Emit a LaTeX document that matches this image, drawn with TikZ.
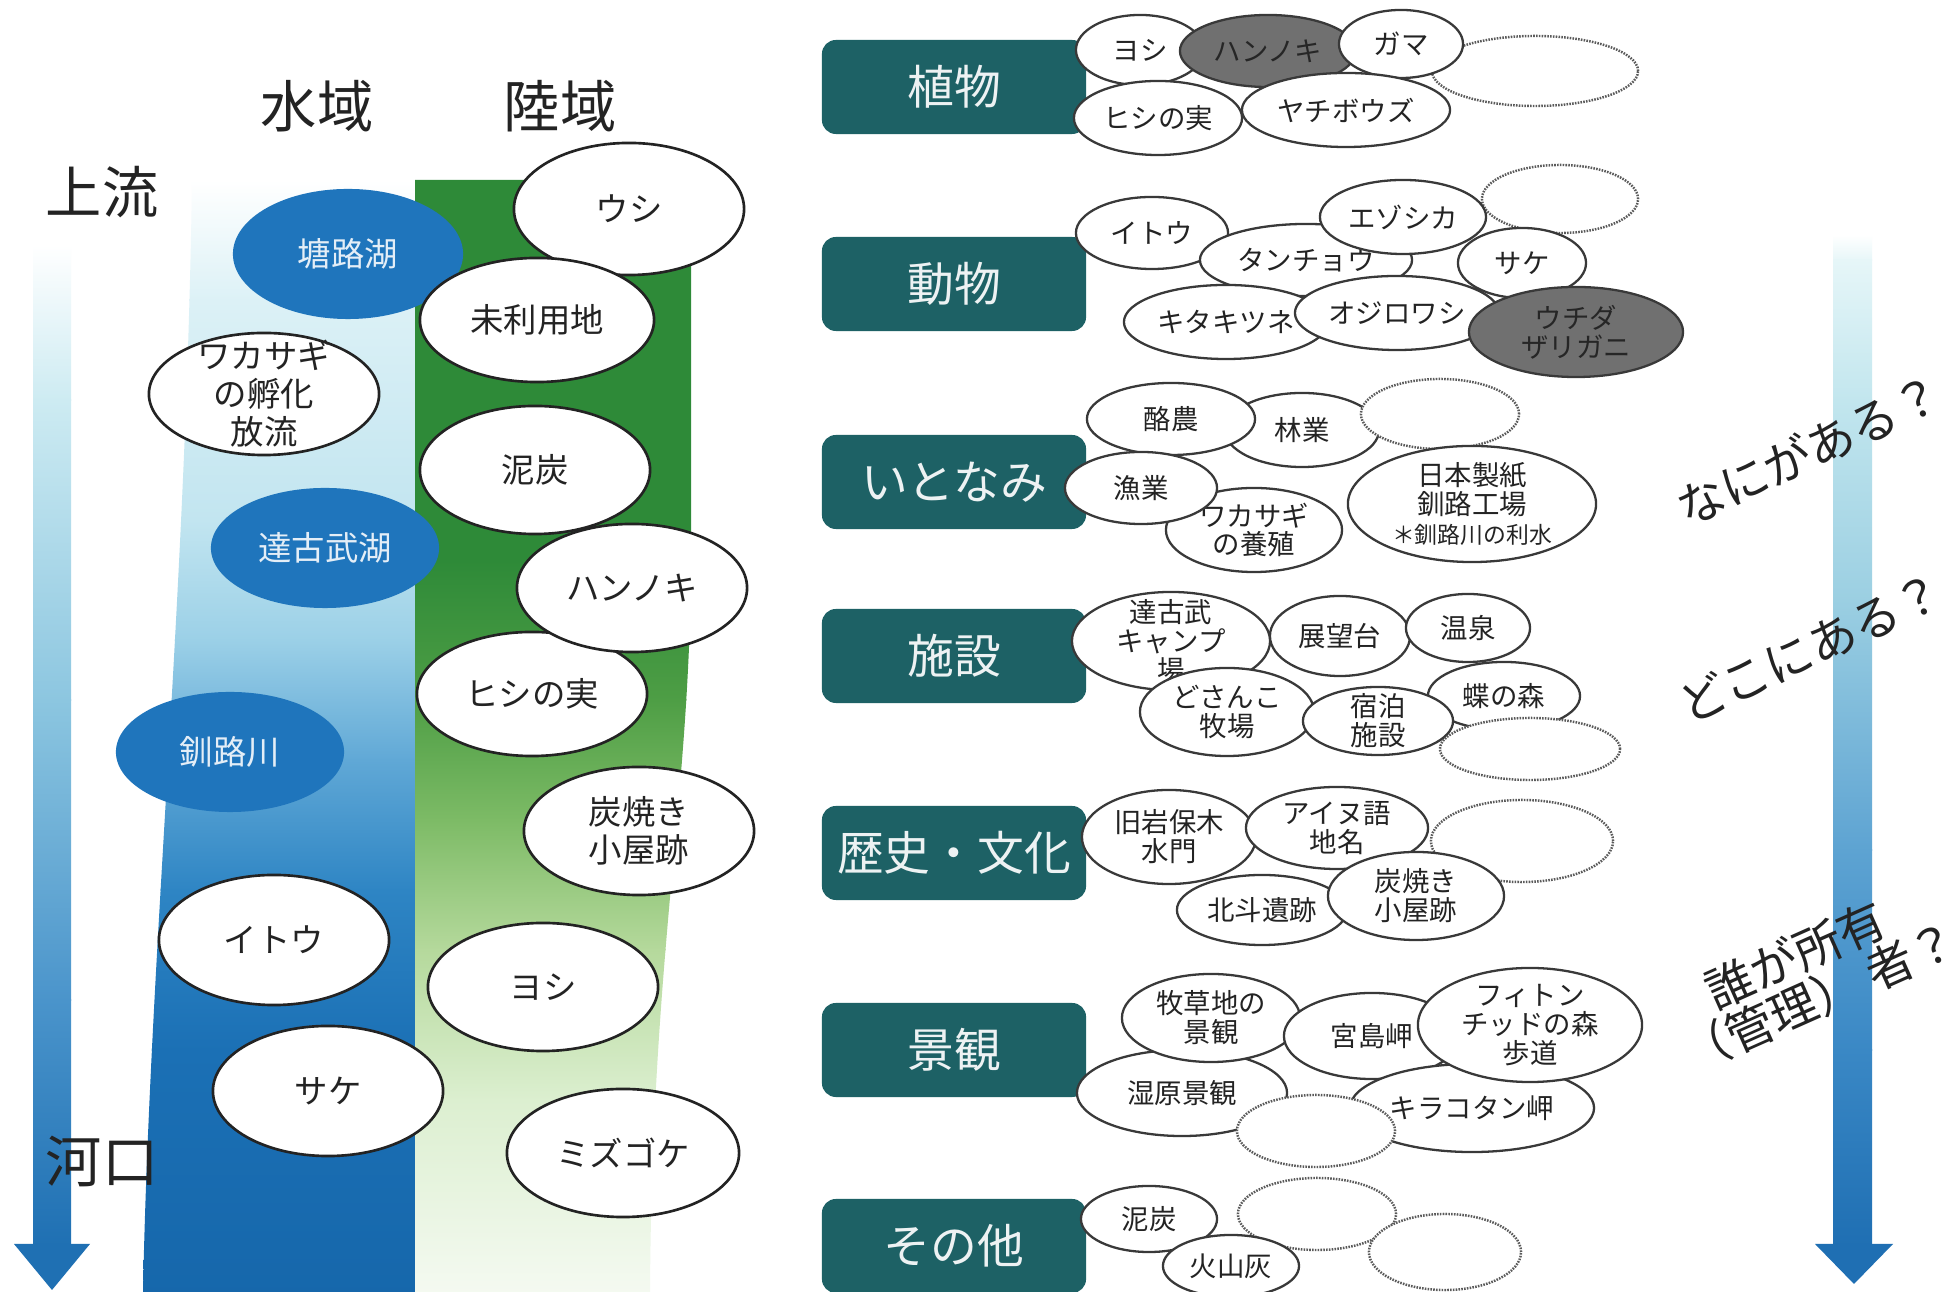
\documentclass[tikz,border=0pt]{standalone}
\usepackage{fontspec}
\setmainfont{Noto Sans CJK JP}
\usetikzlibrary{shapes.geometric}
\definecolor{teal1}{RGB}{29,97,101}
\definecolor{lakeblue}{RGB}{31,117,188}
\definecolor{gfill}{RGB}{112,112,112}
\definecolor{ink}{RGB}{35,35,35}
\definecolor{wb1}{RGB}{220,241,246}
\definecolor{wb2}{RGB}{194,229,240}
\definecolor{wb3}{RGB}{155,208,231}
\definecolor{wb4}{RGB}{96,168,214}
\definecolor{wb5}{RGB}{46,133,196}
\definecolor{wb6}{RGB}{27,112,181}
\definecolor{wb7}{RGB}{22,103,171}
\definecolor{gb0}{RGB}{46,138,56}
\definecolor{gb1}{RGB}{78,158,69}
\definecolor{gb2}{RGB}{125,187,102}
\definecolor{gb3}{RGB}{181,217,156}
\definecolor{gb4}{RGB}{220,239,208}
\definecolor{gb5}{RGB}{245,250,242}
\definecolor{la1}{RGB}{205,235,242}
\definecolor{la2}{RGB}{140,198,224}
\definecolor{la3}{RGB}{74,148,203}
\definecolor{la4}{RGB}{31,112,179}
\definecolor{ra0}{RGB}{230,246,248}
\definecolor{ra1}{RGB}{194,230,238}
\definecolor{ra2}{RGB}{155,207,226}
\definecolor{ra3}{RGB}{93,163,210}
\definecolor{ra4}{RGB}{58,136,197}
\definecolor{ra5}{RGB}{31,111,179}
\newcommand\Ell[8]{%
  \node[#6, minimum width=#4*0.02cm, minimum height=#5*0.02cm] (#1) at (#2,#3) {};
  \node[#7] (#1t) at (#1.center) {#8};}
\begin{document}
\begin{tikzpicture}[x=0.01cm,y=-0.01cm,
  lw/.style={ellipse, draw=ink, line width=0.75pt, fill=white, inner sep=0pt},
  lb/.style={ellipse, fill=lakeblue, inner sep=0pt},
  rw/.style={ellipse, draw=ink!90, line width=0.65pt, fill=white, inner sep=0pt},
  rg/.style={ellipse, draw=ink!90, line width=0.65pt, fill=gfill, inner sep=0pt},
  re/.style={ellipse, draw=ink!75, line width=0.7pt, dash pattern=on 0.45pt off 0.35pt, fill=white, inner sep=0pt},
  lt/.style={font=\fontsize{9.5}{10.8}\selectfont, text=ink, align=center, inner sep=0pt},
  lbt/.style={font=\fontsize{9.5}{10.8}\selectfont, text=white!88!lakeblue, align=center, inner sep=0pt},
  rt/.style={font=\fontsize{7.8}{8.2}\selectfont, text=ink, align=center, inner sep=0pt},
  rgt/.style={rt, text=black!85},
  catbox/.style={rounded corners=0.14cm, fill=teal1, minimum width=2.64cm, minimum height=0.94cm,
    text=white!92!teal1, font=\fontsize{13.3}{15}\selectfont, inner sep=0pt},
  bigt/.style={font=\fontsize{16}{18}\selectfont, text=ink},
  qt/.style={font=\fontsize{13.6}{13.6}\selectfont, text=ink, align=left, inner sep=0pt}]
\useasboundingbox (0,0) rectangle (1950,1292);
\fill[white] (0,0) rectangle (1950,1292);
\begin{scope}
\clip (0,0) rectangle (1950,1292);
% water band
\begin{scope}
\clip (192,180) .. controls (186,600) and (150,950) .. (143,1292) -- (416,1292) -- (416,180) -- cycle;
\shade[top color=white, bottom color=wb1] (100,180) rectangle (450,301);
\shade[top color=wb1, bottom color=wb2] (100,300) rectangle (450,521);
\shade[top color=wb2, bottom color=wb3] (100,520) rectangle (450,641);
\shade[top color=wb3, bottom color=wb4] (100,640) rectangle (450,761);
\shade[top color=wb4, bottom color=wb5] (100,760) rectangle (450,891);
\shade[top color=wb5, bottom color=wb6] (100,890) rectangle (450,1051);
\shade[top color=wb6, bottom color=wb7] (100,1050) rectangle (450,1300);
\end{scope}
% land band
\begin{scope}
\clip (415,180) -- (691,180) -- (691,560) .. controls (690,800) and (652,950) .. (650,1292) -- (415,1292) -- cycle;
\fill[gb0] (400,170) rectangle (700,561);
\shade[top color=gb0, bottom color=gb1] (400,560) rectangle (700,701);
\shade[top color=gb1, bottom color=gb2] (400,700) rectangle (700,821);
\shade[top color=gb2, bottom color=gb3] (400,820) rectangle (700,951);
\shade[top color=gb3, bottom color=gb4] (400,950) rectangle (700,1101);
\shade[top color=gb4, bottom color=gb5] (400,1100) rectangle (700,1300);
\end{scope}
% left arrow
\shade[top color=white, bottom color=la1] (33,245) rectangle (71,401);
\shade[top color=la1, bottom color=la2] (33,400) rectangle (71,701);
\shade[top color=la2, bottom color=la3] (33,700) rectangle (71,1001);
\shade[top color=la3, bottom color=la4] (33,1000) rectangle (71,1246);
\fill[la4] (14,1244) -- (90,1244) -- (52,1290) -- cycle;
% right arrow
\shade[top color=white, bottom color=ra0] (1833,235) rectangle (1872,261);
\shade[top color=ra0, bottom color=ra1] (1833,260) rectangle (1872,401);
\shade[top color=ra1, bottom color=ra2] (1833,400) rectangle (1872,601);
\shade[top color=ra2, bottom color=ra3] (1833,600) rectangle (1872,851);
\shade[top color=ra3, bottom color=ra4] (1833,850) rectangle (1872,1051);
\shade[top color=ra4, bottom color=ra5] (1833,1050) rectangle (1872,1246);
\fill[ra5] (1815,1244) -- (1893,1244) -- (1854,1284) -- cycle;
% headings
\node[bigt] (suiiki) at (317,106) {水域};
\node[bigt] (rikuiki) at (560,106) {陸域};
\node[bigt] (joryu) at (102,192) {上流};
\node[bigt] (kako) at (102,1161) {河口};
% left ellipses
\Ell{lushi}{629}{209}{115}{66}{lw}{lt}{ウシ}
\Ell{ltoro}{348}{254}{115}{65}{lb}{lbt}{塘路湖}
\Ell{lmiri}{537}{320}{117}{62}{lw}{lt}{未利用地}
\Ell{lwaka}{264}{394}{115}{61}{lw}{lt}{ワカサギ\\の孵化\\放流}
\Ell{ldei}{535}{470}{115}{64}{lw}{lt}{泥炭}
\Ell{ltakko}{325}{548}{114}{60}{lb}{lbt}{達古武湖}
\Ell{lhishi}{532}{694}{115}{62}{lw}{lt}{ヒシの実}
\Ell{lhan}{632}{588}{115}{64}{lw}{lt}{ハンノキ}
\Ell{lkushi}{230}{752}{114}{60}{lb}{lbt}{釧路川}
\Ell{lsumi}{639}{831}{115}{64}{lw}{lt}{炭焼き\\小屋跡}
\Ell{lito}{274}{940}{115}{65}{lw}{lt}{イトウ}
\Ell{lyoshi}{543}{987}{115}{64}{lw}{lt}{ヨシ}
\Ell{lsake}{328}{1091}{115}{65}{lw}{lt}{サケ}
\Ell{lmizu}{623}{1153}{116}{64}{lw}{lt}{ミズゴケ}
% category boxes
\node[catbox] (c1) at (954,87) {植物};
\node[catbox] (c2) at (954,284) {動物};
\node[catbox] (c3) at (954,482) {いとなみ};
\node[catbox] (c4) at (954,656) {施設};
\node[catbox] (c5) at (954,853) {歴史・文化};
\node[catbox] (c6) at (954,1050) {景観};
\node[catbox] (c7) at (954,1246) {その他};
% plants
\Ell{p1}{1140}{50}{64}{35}{rw}{rt}{ヨシ}
\Ell{p2}{1268}{51}{88}{36}{rg}{rgt}{ハンノキ}
\Ell{p4}{1535}{71}{103}{35}{re}{rt}{}
\Ell{p3}{1401}{44}{62}{34}{rw}{rt}{ガマ}
\Ell{p5}{1158}{118}{84}{37}{rw}{rt}{ヒシの実}
\Ell{p6}{1346}{110}{104}{37}{rw}{rt}{ヤチボウズ}
% animals
\Ell{a1}{1152}{233}{76}{36}{rw}{rt}{イトウ}
\Ell{a2}{1306}{260}{106}{36}{rw}{rt}{タンチョウ}
\Ell{a4}{1560}{199}{78}{34}{re}{rt}{}
\Ell{a3}{1403}{217}{83}{37}{rw}{rt}{エゾシカ}
\Ell{a5}{1522}{263}{64}{35}{rw}{rt}{サケ}
\Ell{a6}{1226}{322}{102}{37}{rw}{rt}{キタキツネ}
\Ell{a7}{1397}{313}{102}{37}{rw}{rt}{オジロワシ}
\Ell{a8}{1576}{332}{107}{45}{rg}{rgt}{ウチダ\\ザリガニ}
% livelihoods
\Ell{i2}{1302}{430}{77}{37}{rw}{rt}{林業}
\Ell{i1}{1171}{419}{84}{36}{rw}{rt}{酪農}
\Ell{i3}{1440}{414}{79}{35}{re}{rt}{}
\Ell{i5}{1254}{530}{88}{42}{rw}{rt}{ワカサギ\\の養殖}
\Ell{i4}{1141}{488}{76}{36}{rw}{rt}{漁業}
\Ell{i6}{1472}{504}{124}{58}{rw}{rt}{日本製紙\\釧路工場\\{\fontsize{6.5}{8.2}\selectfont ＊釧路川の利水}}
% facilities
\Ell{s1}{1171}{641}{99}{49}{rw}{rt}{達古武\\キャンプ\\場}
\Ell{s2}{1340}{636}{70}{40}{rw}{rt}{展望台}
\Ell{s3}{1468}{628}{62}{34}{rw}{rt}{温泉}
\Ell{s4}{1227}{712}{87}{44}{rw}{rt}{どさんこ\\牧場}
\Ell{s6}{1504}{696}{76}{34}{rw}{rt}{蝶の森}
\Ell{s5}{1378}{721}{75}{34}{rw}{rt}{宿泊\\施設}
\Ell{s7}{1530}{749}{90}{31}{re}{rt}{}
% history
\Ell{h1}{1169}{837}{87}{47}{rw}{rt}{旧岩保木\\水門}
\Ell{h2}{1337}{828}{91}{41}{rw}{rt}{アイヌ語\\地名}
\Ell{h3}{1522}{841}{91}{41}{re}{rt}{}
\Ell{h4}{1262}{910}{85}{35}{rw}{rt}{北斗遺跡}
\Ell{h5}{1416}{896}{88}{44}{rw}{rt}{炭焼き\\小屋跡}
% landscape
\Ell{k4}{1182}{1093}{105}{43}{rw}{rt}{湿原景観}
\Ell{k1}{1211}{1018}{89}{44}{rw}{rt}{牧草地の\\景観}
\Ell{k2}{1372}{1036}{88}{43}{rw}{rt}{宮島岬}
\Ell{k6}{1472}{1108}{122}{44}{rw}{rt}{キラコタン岬}
\Ell{k3}{1530}{1025}{112}{57}{rw}{rt}{フィトン\\チッドの森\\歩道}
\Ell{k5}{1316}{1131}{79}{36}{re}{rt}{}
% other
\Ell{o1}{1149}{1219}{68}{33}{rw}{rt}{泥炭}
\Ell{o2}{1317}{1214}{79}{36}{re}{rt}{}
\Ell{o3}{1445}{1252}{76}{38}{re}{rt}{}
\Ell{o4}{1231}{1266}{68}{31}{rw}{rt}{火山灰}
% questions
\node[qt, rotate=25] (q1) at (1809,450) {なにがある？};
\node[qt, rotate=25] (q2) at (1811,648) {どこにある？};
\node[qt, rotate=24] (q3) at (1810,975) {　誰が所有\\（管理）\hspace{0.2em}者？};
\end{scope}
\end{tikzpicture}
\end{document}
